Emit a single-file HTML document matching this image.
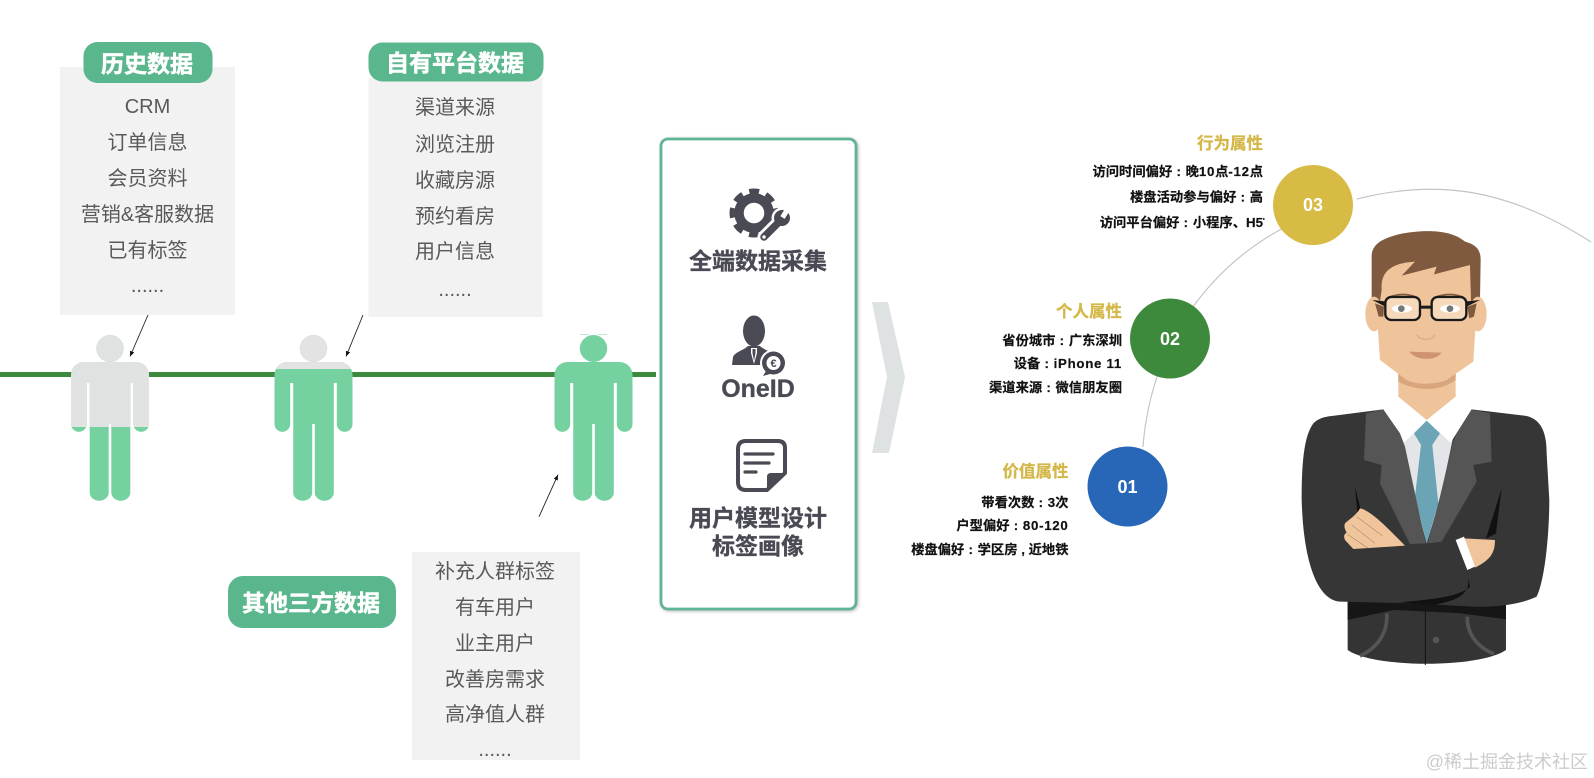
<!DOCTYPE html>
<html lang="zh">
<head>
<meta charset="utf-8">
<style>
html,body{margin:0;padding:0;background:#fff;width:1594px;height:778px;overflow:hidden}
svg{display:block}
text{font-family:"Liberation Sans","Noto Sans CJK SC",sans-serif}
.l{font-size:20px;fill:#595959;text-anchor:middle}
.p{font-size:23px;font-weight:700;fill:#fff;stroke:#fff;stroke-width:.5;text-anchor:middle}
.c{font-size:23px;font-weight:700;fill:#4a4a55;stroke:#4a4a55;stroke-width:.35;text-anchor:middle}
.h{font-size:16.5px;font-weight:700;fill:#d4b84a;stroke:#d4b84a;stroke-width:.3;text-anchor:end}
.s{font-size:13.3px;font-weight:700;fill:#111;stroke:#111;stroke-width:.2;text-anchor:end}
.n{font-size:18px;font-weight:700;fill:#fff;text-anchor:middle}
.k{letter-spacing:.5px}
.d{letter-spacing:.7px}
</style>
</head>
<body>
<svg width="1594" height="778" viewBox="0 0 1594 778" xmlns="http://www.w3.org/2000/svg">
<defs>
<g id="person">
<ellipse cx="0" cy="348.500" rx="13.700" ry="13.500"/>
<path d="M-26,362 H26 A13,13 0 0 1 39,375 V424 A7.850,7.850 0 0 1 23.300,424 V383 H20.300 V492.700 A9.500,8 0 0 1 1.300,492.700 V424 H-1.300 V492.700 A9.500,8 0 0 1 -20.300,492.700 V383 H-23.300 V424 A7.850,7.850 0 0 1 -39,424 V375 A13,13 0 0 1 -26,362 Z"/>
</g>
<clipPath id="c1"><rect x="60" y="330" width="100" height="97"/></clipPath>
<clipPath id="c2"><rect x="260" y="330" width="100" height="39"/></clipPath>
<filter id="sh" x="-10%" y="-10%" width="120%" height="120%"><feGaussianBlur stdDeviation="1.800"/></filter>
<marker id="ar" markerWidth="7" markerHeight="7" refX="6" refY="3" orient="auto"><path d="M0,0.500 L6,3 L0,5.500 Z" fill="#111"/></marker>
</defs>

<!-- top boxes -->
<rect x="60" y="67" width="175" height="248" fill="#f2f2f2"/>
<rect x="368.500" y="78" width="174" height="239" fill="#f2f2f2"/>
<rect x="412" y="552" width="168" height="208" fill="#f2f2f2"/>

<rect x="83.500" y="42" width="129" height="41" rx="14" fill="#5ab68d"/>
<text class="p" x="147" y="72">历史数据</text>
<rect x="368.500" y="42.500" width="175" height="39" rx="14" fill="#5ab68d"/>
<text class="p" x="455" y="71">自有平台数据</text>
<rect x="228" y="576" width="168" height="52" rx="15" fill="#5ab68d"/>
<text class="p" x="311" y="611">其他三方数据</text>

<text class="l" x="147.500" y="113">CRM</text>
<text class="l" x="147.500" y="149">订单信息</text>
<text class="l" x="147.500" y="185">会员资料</text>
<text class="l" x="147.500" y="221">营销&amp;客服数据</text>
<text class="l" x="147.500" y="257">已有标签</text>
<text class="l" x="147.500" y="292">......</text>

<text class="l" x="455" y="114">渠道来源</text>
<text class="l" x="455" y="151">浏览注册</text>
<text class="l" x="455" y="187">收藏房源</text>
<text class="l" x="455" y="223">预约看房</text>
<text class="l" x="455" y="258">用户信息</text>
<text class="l" x="455" y="296">......</text>

<text class="l" x="495" y="578">补充人群标签</text>
<text class="l" x="495" y="614">有车用户</text>
<text class="l" x="495" y="650">业主用户</text>
<text class="l" x="495" y="686">改善房需求</text>
<text class="l" x="495" y="721">高净值人群</text>
<text class="l" x="495" y="756">......</text>

<!-- timeline -->
<rect x="0" y="372" width="656" height="5" fill="#3d8a3f"/>

<!-- people -->
<use href="#person" x="110" fill="#76d1a0"/>
<g clip-path="url(#c1)"><use href="#person" x="110" fill="#e3e3e3" opacity=".97"/></g>
<use href="#person" x="313.500" fill="#76d1a0"/>
<g clip-path="url(#c2)"><use href="#person" x="313.500" fill="#e3e3e3"/></g>
<use href="#person" x="593.500" fill="#76d1a0"/>
<path d="M580,334.500 H607" stroke="#a8e2c4" stroke-width=".8" stroke-dasharray="9 9"/>

<!-- arrows -->
<path d="M148,315 L130,356.500" stroke="#222" stroke-width=".9" fill="none" marker-end="url(#ar)"/>
<path d="M363,315 L346,356.500" stroke="#222" stroke-width=".9" fill="none" marker-end="url(#ar)"/>
<path d="M539,516.700 L558,474.700" stroke="#222" stroke-width=".9" fill="none" marker-end="url(#ar)"/>

<!-- centre card -->
<rect x="661" y="139" width="197" height="472" rx="8" fill="#a9a9a9" filter="url(#sh)"/>
<rect x="661" y="139" width="195" height="470" rx="7" fill="#fff" stroke="#5fb493" stroke-width="2.800"/>

<!-- gear -->
<circle cx="754" cy="213" r="15" fill="none" stroke="#4a4a55" stroke-width="9.500"/>
<circle cx="754" cy="213" r="22" fill="none" stroke="#4a4a55" stroke-width="5" stroke-dasharray="10 7.280" stroke-dashoffset="5"/>
<path d="M764,237 L782,219" stroke="#fff" stroke-width="13" stroke-linecap="round"/>
<circle cx="782" cy="218" r="10.500" fill="#fff"/>
<path d="M764,237 L782,219" stroke="#4a4a55" stroke-width="7.500" stroke-linecap="round"/>
<circle cx="782" cy="218" r="8" fill="#4a4a55"/>
<path d="M782.500,217.500 L789,207" stroke="#fff" stroke-width="5"/>
<circle cx="764" cy="237" r="1.700" fill="#fff"/>
<text class="c" x="758" y="269">全端数据采集</text>

<!-- person icon -->
<ellipse cx="754" cy="331" rx="11" ry="15.500" fill="#4a4a55"/>
<path d="M732,365 L733,357 C735,352 744,350 748,346 L760,346 C764,350 772,352 775,355 L779,365 Z" fill="#4a4a55"/>
<path d="M751,348 H757 L757,353 L754,364 L751,353 Z" fill="#fff"/>
<path d="M752.500,349 H755.500 L755.500,353 L754,361 L752.500,353 Z" fill="#4a4a55"/>
<circle cx="773.500" cy="363" r="13.500" fill="#fff"/>
<circle cx="773.500" cy="363" r="11.500" fill="#4a4a55"/>
<path d="M766,371 L763,376 L770,374 Z" fill="#4a4a55"/>
<circle cx="773.500" cy="363" r="7" fill="#fff"/>
<text x="773.500" y="367" font-size="11" font-weight="700" fill="#4a4a55" text-anchor="middle">€</text>
<text x="758" y="397" font-size="25" font-weight="700" fill="#4a4a55" stroke="#4a4a55" stroke-width=".3" text-anchor="middle">OneID</text>

<!-- doc icon -->
<path d="M746,441 H778 Q785,441 785,448 V473 L767,490 H746 Q738,490 738,482 V449 Q738,441 746,441 Z" fill="#fff" stroke="#4a4a55" stroke-width="4" stroke-linejoin="round"/>
<path d="M767,490 V477 Q767,473 771,473 H785 Z" fill="#4a4a55"/>
<path d="M745,454 H773 M745,463 H769 M745,472 H756" stroke="#4a4a55" stroke-width="3.200" stroke-linecap="round"/>
<text class="c" x="758" y="526">用户模型设计</text>
<text class="c" x="758" y="554">标签画像</text>

<!-- chevron -->
<polygon points="872,302 888,302 905,377 889,453 872,453 887,377" fill="#dfe2e3"/>

<!-- arc -->
<path d="M1143,447 C1150,350 1205,265 1295,222" fill="none" stroke="#c4c4c4" stroke-width="1.200"/>
<path d="M1357,199 C1440,178 1510,190 1591,242" fill="none" stroke="#c4c4c4" stroke-width="1.200"/>

<!-- circles -->
<circle cx="1313" cy="205" r="40" fill="#d7bb45"/>
<text class="n" x="1313" y="211">03</text>
<circle cx="1170" cy="338.500" r="40" fill="#3e8a3c"/>
<text class="n" x="1170" y="345">02</text>
<circle cx="1127.500" cy="486.500" r="40" fill="#2866b8"/>
<text class="n" x="1127.500" y="493">01</text>

<!-- attribute labels -->
<text class="h" x="1263" y="149">行为属性</text>
<text class="s" x="1263" y="176">访问时间偏好<tspan class="k"> : </tspan>晚<tspan class="d">10</tspan>点<tspan class="d">-12</tspan>点</text>
<text class="s" x="1263" y="201.500">楼盘活动参与偏好<tspan class="k"> : </tspan>高</text>
<text class="s" x="1263" y="227">访问平台偏好<tspan class="k"> : </tspan>小程序、H5</text>
<rect x="1263" y="218" width="1.500" height="2" fill="#333"/>

<text class="h" x="1122" y="317">个人属性</text>
<text class="s" x="1122" y="345">省份城市<tspan class="k"> : </tspan>广东深圳</text>
<text class="s" x="1122" y="368">设备<tspan class="k"> : </tspan><tspan class="d">iPhone 11</tspan></text>
<text class="s" x="1122" y="392">渠道来源<tspan class="k"> : </tspan>微信朋友圈</text>

<text class="h" x="1068.500" y="477">价值属性</text>
<text class="s" x="1068.500" y="507">带看次数<tspan class="k"> : </tspan>3次</text>
<text class="s" x="1068.500" y="530">户型偏好<tspan class="k"> : </tspan><tspan class="d">80-120</tspan></text>
<text class="s" x="1068.500" y="554">楼盘偏好<tspan class="k"> : </tspan>学区房 , 近地铁</text>

<!-- man body -->
<g transform="translate(1260,400) scale(.3333)">
<path d="M263,590 L263,750 C340,805 660,805 738,750 L738,590 Z" fill="#343434"/>
<path d="M263,600 L263,660 L400,630 L600,640 L738,658 L738,600 Z" fill="#161616"/>
<path d="M496,632 V795" stroke="#111" stroke-width="3"/>
<path d="M380,640 C385,700 350,745 300,768" fill="none" stroke="#555" stroke-width="11"/>
<path d="M622,650 C620,700 650,740 702,762" fill="none" stroke="#555" stroke-width="11"/>
<circle cx="528" cy="720" r="10" fill="#555"/>
<path d="M215,48 L370,28 L635,28 L800,48 C850,60 860,110 860,160 L868,300 C868,400 855,540 830,590 C790,610 720,622 640,620 L460,610 L240,605 C170,600 130,480 125,300 C125,200 130,110 160,70 C175,55 195,50 215,48 Z" fill="#363636"/>
<path d="M622,515 L630,560 C600,590 520,598 420,607 L520,615 C590,602 640,585 622,515 Z" fill="#111"/>
<path d="M420,110 L500,60 L580,110 L540,300 L500,430 L460,280 Z" fill="#e3e5e8"/>
<path d="M370,28 L432,128 L500,62 L572,128 L635,28 L600,-30 L400,-30 Z" fill="#fff"/>
<path d="M500,62 L540,100 L517,135 L535,310 L500,430 L465,290 L483,135 L462,100 Z" fill="#6ba5b5"/>
<path d="M318,40 L370,28 L420,100 L435,140 L465,280 L497,430 L450,432 L360,250 L365,195 L312,180 Z" fill="#555"/>
<path d="M690,40 L635,28 L590,100 L578,130 L540,290 L503,430 L545,425 L650,245 L640,195 L695,185 Z" fill="#555"/>
<path d="M285,260 L302,330 L292,340 Z" fill="#111"/>
<path d="M725,265 L708,400 L678,416 Z" fill="#111"/>
<path d="M255,370 C265,360 290,345 300,325 C330,330 380,380 435,437 L280,447 L255,420 Q248,405 260,398 Q250,380 255,370 Z" fill="#f0c59c"/>
<path d="M275,375 L345,430 M290,350 L368,408 M262,403 L325,445" stroke="#8a6a4c" stroke-width="1.500"/>
<path d="M612,415 L705,420 C705,460 690,480 645,503 Z" fill="#f0c59c"/>
<path d="M587,420 L612,410 L645,500 L622,510 Z" fill="#fff"/>
</g>

<!-- man head -->
<g transform="translate(1260,210) scale(.3333)">
<path d="M335,275 L335,140 C335,100 370,85 420,72 C480,60 570,55 615,95 C650,105 662,120 662,150 L660,275 L635,330 L355,320 Z" fill="#7f5a3f"/>
<ellipse cx="342" cy="312" rx="26" ry="52" fill="#efc49b"/>
<ellipse cx="654" cy="312" rx="26" ry="52" fill="#efc49b"/>
<path d="M415,470 L415,560 L500,630 L587,560 L587,470 Z" fill="#f0c49b"/>
<path d="M415,488 L415,515 C470,545 540,545 587,510 L587,480 Z" fill="#d9a57c"/>
<path d="M365,240 C362,190 385,160 465,155 L425,197 L530,170 L522,193 L630,165 L633,270 L648,330 L640,455 L560,510 C520,525 470,525 440,510 L360,450 L352,330 Z" fill="#efc49b"/>
<path d="M345,280 L372,290 L370,320 L356,320 Z M650,280 L622,290 L628,325 L642,320 Z" fill="#7f5a3f"/>
<path d="M385,262 Q430,245 470,262 M525,262 Q570,245 610,262" stroke="#7f5a3f" stroke-width="5" fill="none"/>
<rect x="376" y="261" width="104" height="69" rx="18" fill="#f6d8ba" stroke="#1a1a1a" stroke-width="7"/>
<rect x="515" y="261" width="104" height="69" rx="18" fill="#f6d8ba" stroke="#1a1a1a" stroke-width="7"/>
<ellipse cx="426" cy="296" rx="30" ry="12" fill="#fff"/>
<ellipse cx="570" cy="296" rx="30" ry="12" fill="#fff"/>
<circle cx="424" cy="296" r="10" fill="#777"/>
<circle cx="570" cy="296" r="10" fill="#777"/>
<rect x="478" y="287" width="38" height="9" fill="#1a1a1a"/>
<path d="M337,270 L376,274 L376,290 Z M660,270 L620,274 L620,290 Z" fill="#1a1a1a"/>
<path d="M470,375 C480,392 515,392 525,375" stroke="#d9a57c" stroke-width="3" fill="none"/>
<path d="M448,425 L545,428 C530,452 470,455 448,425 Z" fill="#cf9371"/>
</g>

<!-- watermark -->
<text x="1588" y="768" font-size="18" fill="#cccccc" text-anchor="end">@稀土掘金技术社区</text>
</svg>
</body>
</html>
